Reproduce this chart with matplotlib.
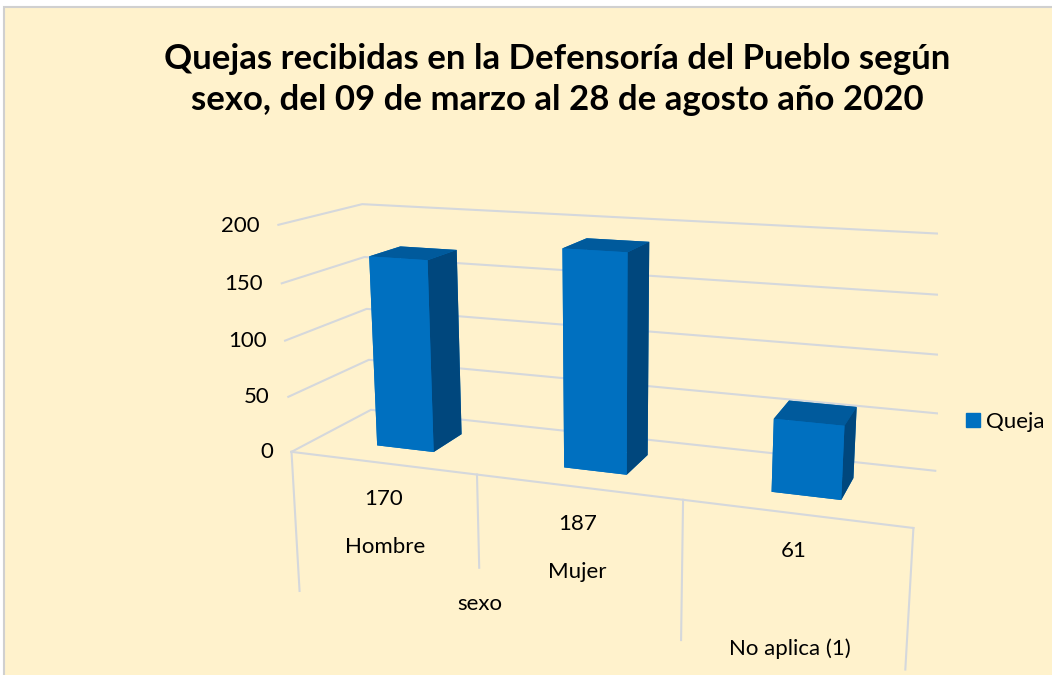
import matplotlib
matplotlib.use('Agg')
import matplotlib.pyplot as plt
import numpy as np
from matplotlib.patches import Patch, Rectangle
from mpl_toolkits.mplot3d import proj3d

# ---------------- data ----------------
categories = ['Hombre', 'Mujer', 'No aplica (1)']
values = [170, 187, 61]
group_label = 'sexo'
series_name = 'Queja'
z_ticks = [0, 50, 100, 150, 200]
title = ('Quejas recibidas en la Defensoría del Pueblo según\n'
         'sexo, del 09 de marzo al 28 de agosto año 2020')

# ---------------- style ----------------
BG = '#FFF2CC'
FRONT = '#0070C0'
SIDE = '#00477D'
TOP = '#005A9C'
GRID = '#D5D8DC'
plt.rcParams['font.family'] = ['Lato', 'DejaVu Sans']
FS = 16

fig = plt.figure(figsize=(10.52, 6.75), dpi=100, facecolor='white')
fig.patches.append(Rectangle((0.0035, -0.01), 1.0, 0.999, transform=fig.transFigure,
                             facecolor=BG, edgecolor='#D0D0D0', lw=1.5, zorder=-10))

ax = fig.add_axes([0.2441, -0.0331, 0.6473, 1.0088], projection='3d',
                  computed_zorder=False)
ax.patch.set_visible(False)
ax.set_axis_off()

n = len(values)
xs = np.arange(n)
bw, y0, y1 = 0.313, 0.30, 0.70
ymin, ymax = 0.0, 1.0
xmin, xmax = -0.5, n - 0.5
ax.set_xlim(xmin, xmax)
ax.set_ylim(ymin, ymax)
ax.set_zlim(z_ticks[0], z_ticks[-1])
ax.set_box_aspect((3.0, 0.78, 1.12))
ax.view_init(elev=13.65, azim=-70.14)
ax.set_proj_type('persp', focal_length=0.366)
M = ax.get_proj()


def text3(x, y, z, s, **kw):
    """Place a plain 2D text at the projected position of a 3D point."""
    xp, yp, _ = proj3d.proj_transform(x, y, z, M)
    return ax.text2D(float(xp), float(yp), s, transform=ax.transData, **kw)


# gridlines on left and back walls
for z in z_ticks:
    ax.plot([xmin, xmin, xmax], [ymin, ymax, ymax], [z, z, z],
            color=GRID, lw=1.5, zorder=1)
# floor front edge
ax.plot([xmin, xmax], [ymin, ymin], [0, 0], color=GRID, lw=1.5, zorder=1)

# bars (face order: bottom, top, front, back, left, right)
face_cols = []
for _ in range(n):
    face_cols += [FRONT, TOP, FRONT, FRONT, FRONT, SIDE]
ax.bar3d(xs - bw / 2, np.full(n, y0), np.zeros(n), bw, y1 - y0, values,
         color=face_cols, shade=False, zorder=3)

# category table dividers below floor
div_x = [xmin, 0.5, 1.5, xmax]
div_len = [-131, -83, -120, -115]
for dx, dl in zip(div_x, div_len):
    ax.plot([dx, dx], [ymin, ymin], [0, dl], color=GRID, lw=1.5, zorder=1)

# value tick labels
for z in z_ticks:
    text3(xmin - 0.105, ymin, z, f'{z}', ha='right', va='center_baseline',
          fontsize=FS, color='#000000')

# category table text
val_z = [-33, -32, -31]
cat_z = [-77, -74, -113]
for x, v, c, vz, cz in zip(xs, values, categories, val_z, cat_z):
    text3(x, ymin, vz, f'{v}', ha='center', va='center', fontsize=FS)
    text3(x, ymin, cz, c, ha='center', va='center', fontsize=FS)
text3(0.5, ymin, -116, group_label, ha='center', va='center', fontsize=FS)

fig.text(0.53, 0.882, title, ha='center', va='center', fontsize=25,
         fontweight='bold', linespacing=1.36)

fig.legend(handles=[Patch(color=FRONT, label=series_name)], loc='center left',
           bbox_to_anchor=(0.918, 0.375), frameon=False, fontsize=FS,
           handlelength=0.63, handleheight=0.63, handletextpad=0.3,
           borderpad=0, borderaxespad=0)

fig.savefig('out.png', dpi=100, facecolor='white')
